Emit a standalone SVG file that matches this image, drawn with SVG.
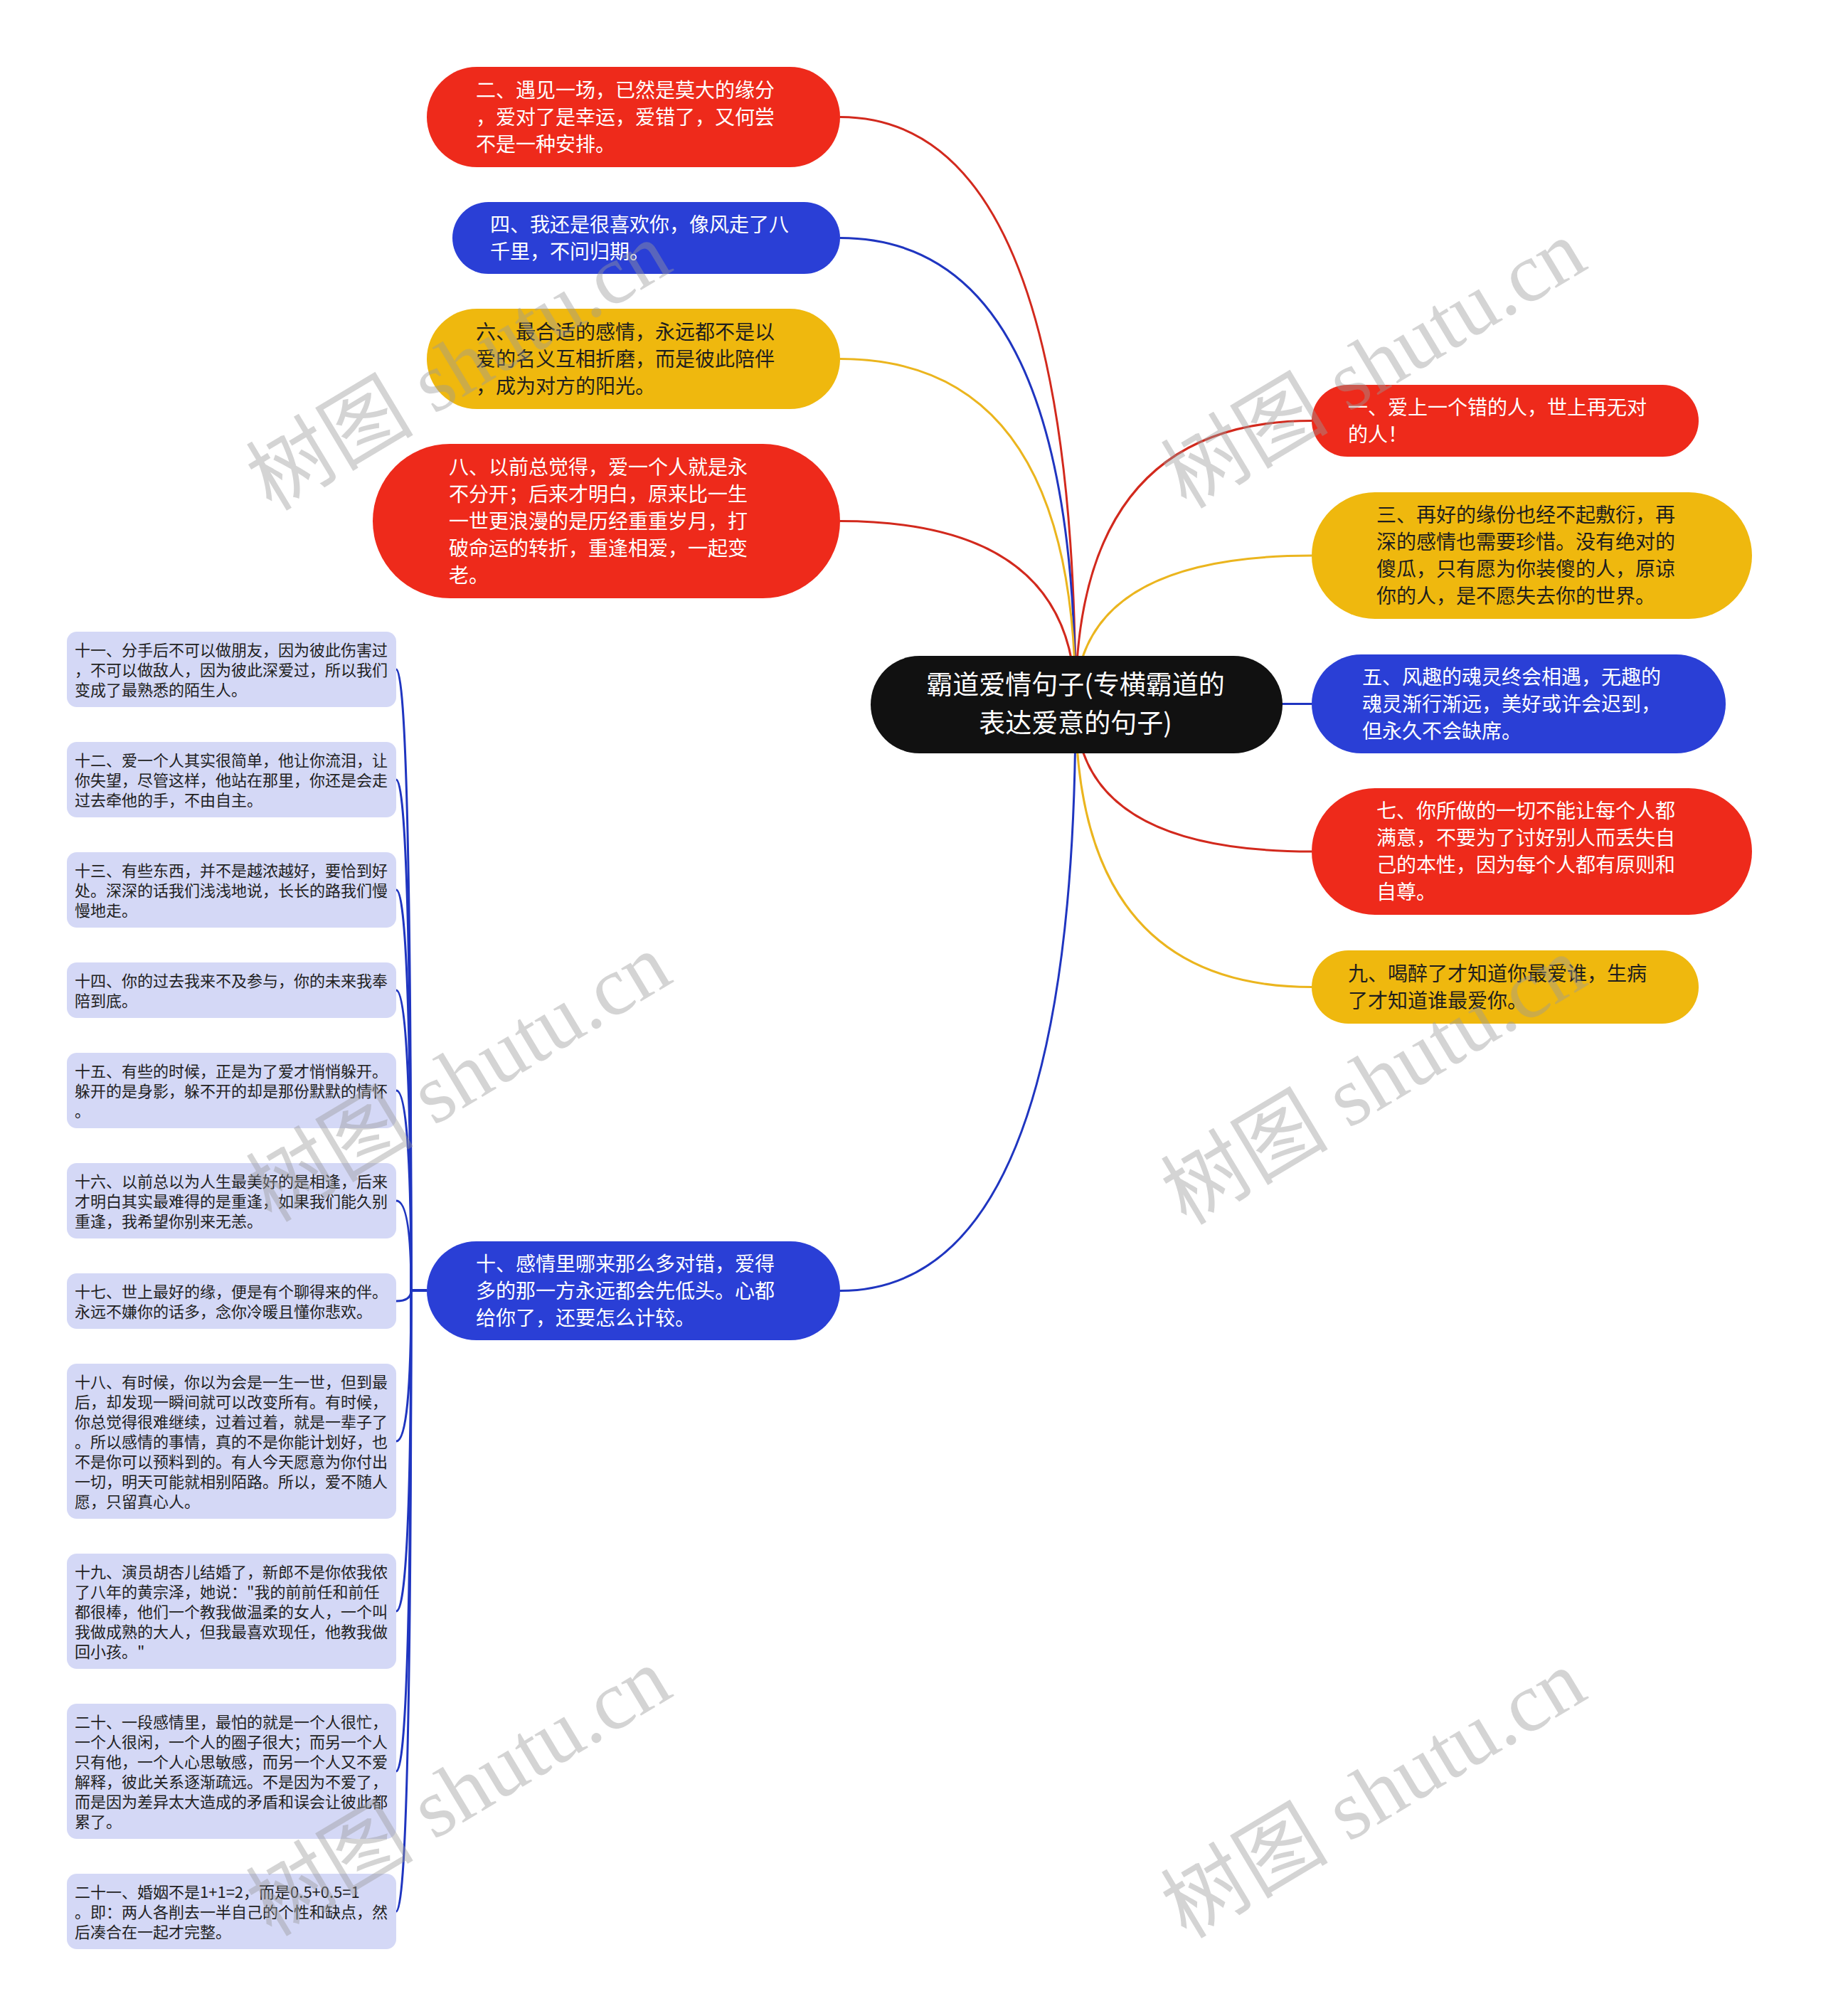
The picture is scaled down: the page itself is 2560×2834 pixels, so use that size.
<svg xmlns="http://www.w3.org/2000/svg" width="2560" height="2834" viewBox="0 0 2560 2834">
<style>
text { font-family: "Noto Sans CJK SC", "Noto Sans", sans-serif; }
.m text { font-size: 28px; }
.lt { fill: #ffffff; }
.dk { fill: #1e1e1e; }
.red { fill: #ee2a1b; }
.blue { fill: #2a3fd6; }
.yel { fill: #efb80e; }
.leaf rect { fill: #d4d8f6; }
.leaf text { font-size: 22px; fill: #222222; }
.c { fill: none; stroke-width: 3; }
.cr { stroke: #d2291d; }
.cb { stroke: #1f35c0; }
.cy { stroke: #ebb51e; }
.wm { font-family: "Liberation Serif", "Noto Sans CJK SC", serif; font-size: 118px; fill: #9a9a9a; opacity: 0.42; }
</style>
<rect x="0" y="0" width="2560" height="2834" fill="#ffffff"/>
<g id="connectors">
  <path class="c cr" d="M1512 990 Q1512 164.5 1181 164.5"/>
  <path class="c cb" d="M1512 990 Q1512 334.5 1181 334.5"/>
  <path class="c cy" d="M1512 990 Q1512 504.5 1181 504.5"/>
  <path class="c cr" d="M1512 990 Q1512 732.5 1181 732.5"/>
  <path class="c cb" d="M1512 990 Q1512 1814.5 1181 1814.5"/>
  <path class="c cr" d="M1512 990 Q1512 591.5 1844 591.5"/>
  <path class="c cy" d="M1512 990 Q1512 781 1844 781"/>
  <path class="c cb" d="M1512 990 L1844 989.5"/>
  <path class="c cr" d="M1512 990 Q1512 1197 1844 1197"/>
  <path class="c cy" d="M1512 990 Q1512 1387.5 1844 1387.5"/>
  <g class="c cb">
    <path d="M600 1814 L578 1814 Q578 941 557 941"/>
    <path d="M600 1814 L578 1814 Q578 1096 557 1096"/>
    <path d="M600 1814 L578 1814 Q578 1251 557 1251"/>
    <path d="M600 1814 L578 1814 Q578 1392 557 1392"/>
    <path d="M600 1814 L578 1814 Q578 1533 557 1533"/>
    <path d="M600 1814 L578 1814 Q578 1688 557 1688"/>
    <path d="M600 1814 L578 1814 Q578 1829 557 1829"/>
    <path d="M600 1814 L578 1814 Q578 2026 557 2026"/>
    <path d="M600 1814 L578 1814 Q578 2265 557 2265"/>
    <path d="M600 1814 L578 1814 Q578 2490 557 2490"/>
    <path d="M600 1814 L578 1814 Q578 2687 557 2687"/>
  </g>
</g>
<g id="root">
  <rect x="1224" y="922" width="579" height="137" rx="68.5" fill="#111111"/>
  <text x="1512" y="976" text-anchor="middle" font-size="37" fill="#ffffff">霸道爱情句子(专横霸道的</text>
  <text x="1512" y="1030" text-anchor="middle" font-size="37" fill="#ffffff">表达爱意的句子)</text>
</g>
<g class="m">
  <g id="n2">
    <rect class="red" x="600" y="94" width="581" height="141" rx="70.5"/>
    <text class="lt" x="669" y="136.5">二、遇见一场，已然是莫大的缘分</text>
    <text class="lt" x="669" y="174.5">，爱对了是幸运，爱错了，又何尝</text>
    <text class="lt" x="669" y="212.5">不是一种安排。</text>
  </g>
  <g id="n4">
    <rect class="blue" x="636" y="284" width="545" height="101" rx="50.5"/>
    <text class="lt" x="689" y="325.5">四、我还是很喜欢你，像风走了八</text>
    <text class="lt" x="689" y="363.5">千里，不问归期。</text>
  </g>
  <g id="n6">
    <rect class="yel" x="600" y="434" width="581" height="141" rx="70.5"/>
    <text class="dk" x="669" y="476.5">六、最合适的感情，永远都不是以</text>
    <text class="dk" x="669" y="514.5">爱的名义互相折磨，而是彼此陪伴</text>
    <text class="dk" x="669" y="552.5">，成为对方的阳光。</text>
  </g>
  <g id="n8">
    <rect class="red" x="524" y="624" width="657" height="217" rx="108.5"/>
    <text class="lt" x="631" y="666.5">八、以前总觉得，爱一个人就是永</text>
    <text class="lt" x="631" y="704.5">不分开；后来才明白，原来比一生</text>
    <text class="lt" x="631" y="742.5">一世更浪漫的是历经重重岁月，打</text>
    <text class="lt" x="631" y="780.5">破命运的转折，重逢相爱，一起变</text>
    <text class="lt" x="631" y="818.5">老。</text>
  </g>
  <g id="n10">
    <rect class="blue" x="600" y="1745" width="581" height="139" rx="69.5"/>
    <text class="lt" x="669" y="1786.5">十、感情里哪来那么多对错，爱得</text>
    <text class="lt" x="669" y="1824.5">多的那一方永远都会先低头。心都</text>
    <text class="lt" x="669" y="1862.5">给你了，还要怎么计较。</text>
  </g>
  <g id="n1">
    <rect class="red" x="1844" y="541" width="544" height="101" rx="50.5"/>
    <text class="lt" x="1895" y="582.5">一、爱上一个错的人，世上再无对</text>
    <text class="lt" x="1895" y="620.5">的人！</text>
  </g>
  <g id="n3">
    <rect class="yel" x="1844" y="692" width="619" height="178" rx="89"/>
    <text class="dk" x="1935" y="734">三、再好的缘份也经不起敷衍，再</text>
    <text class="dk" x="1935" y="772">深的感情也需要珍惜。没有绝对的</text>
    <text class="dk" x="1935" y="810">傻瓜，只有愿为你装傻的人，原谅</text>
    <text class="dk" x="1935" y="848">你的人，是不愿失去你的世界。</text>
  </g>
  <g id="n5">
    <rect class="blue" x="1844" y="920" width="582" height="139" rx="69.5"/>
    <text class="lt" x="1915" y="961.5">五、风趣的魂灵终会相遇，无趣的</text>
    <text class="lt" x="1915" y="999.5">魂灵渐行渐远，美好或许会迟到，</text>
    <text class="lt" x="1915" y="1037.5">但永久不会缺席。</text>
  </g>
  <g id="n7">
    <rect class="red" x="1844" y="1108" width="619" height="178" rx="89"/>
    <text class="lt" x="1935" y="1150">七、你所做的一切不能让每个人都</text>
    <text class="lt" x="1935" y="1188">满意，不要为了讨好别人而丢失自</text>
    <text class="lt" x="1935" y="1226">己的本性，因为每个人都有原则和</text>
    <text class="lt" x="1935" y="1264">自尊。</text>
  </g>
  <g id="n9">
    <rect class="yel" x="1844" y="1336" width="544" height="103" rx="51.5"/>
    <text class="dk" x="1895" y="1378.5">九、喝醉了才知道你最爱谁，生病</text>
    <text class="dk" x="1895" y="1416.5">了才知道谁最爱你。</text>
  </g>
</g>
<g class="leaf">
  <g id="n11">
    <rect x="94" y="888" width="463" height="106" rx="14"/>
    <text x="105" y="922">十一、分手后不可以做朋友，因为彼此伤害过</text>
    <text x="105" y="950">，不可以做敌人，因为彼此深爱过，所以我们</text>
    <text x="105" y="978">变成了最熟悉的陌生人。</text>
  </g>
  <g id="n12">
    <rect x="94" y="1043" width="463" height="106" rx="14"/>
    <text x="105" y="1077">十二、爱一个人其实很简单，他让你流泪，让</text>
    <text x="105" y="1105">你失望，尽管这样，他站在那里，你还是会走</text>
    <text x="105" y="1133">过去牵他的手，不由自主。</text>
  </g>
  <g id="n13">
    <rect x="94" y="1198" width="463" height="106" rx="14"/>
    <text x="105" y="1232">十三、有些东西，并不是越浓越好，要恰到好</text>
    <text x="105" y="1260">处。深深的话我们浅浅地说，长长的路我们慢</text>
    <text x="105" y="1288">慢地走。</text>
  </g>
  <g id="n14">
    <rect x="94" y="1353" width="463" height="78" rx="14"/>
    <text x="105" y="1387">十四、你的过去我来不及参与，你的未来我奉</text>
    <text x="105" y="1415">陪到底。</text>
  </g>
  <g id="n15">
    <rect x="94" y="1480" width="463" height="106" rx="14"/>
    <text x="105" y="1514">十五、有些的时候，正是为了爱才悄悄躲开。</text>
    <text x="105" y="1542">躲开的是身影，躲不开的却是那份默默的情怀</text>
    <text x="105" y="1570">。</text>
  </g>
  <g id="n16">
    <rect x="94" y="1635" width="463" height="106" rx="14"/>
    <text x="105" y="1669">十六、以前总以为人生最美好的是相逢，后来</text>
    <text x="105" y="1697">才明白其实最难得的是重逢，如果我们能久别</text>
    <text x="105" y="1725">重逢，我希望你别来无恙。</text>
  </g>
  <g id="n17">
    <rect x="94" y="1790" width="463" height="78" rx="14"/>
    <text x="105" y="1824">十七、世上最好的缘，便是有个聊得来的伴。</text>
    <text x="105" y="1852">永远不嫌你的话多，念你冷暖且懂你悲欢。</text>
  </g>
  <g id="n18">
    <rect x="94" y="1917" width="463" height="218" rx="14"/>
    <text x="105" y="1951">十八、有时候，你以为会是一生一世，但到最</text>
    <text x="105" y="1979">后，却发现一瞬间就可以改变所有。有时候，</text>
    <text x="105" y="2007">你总觉得很难继续，过着过着，就是一辈子了</text>
    <text x="105" y="2035">。所以感情的事情，真的不是你能计划好，也</text>
    <text x="105" y="2063">不是你可以预料到的。有人今天愿意为你付出</text>
    <text x="105" y="2091">一切，明天可能就相别陌路。所以，爱不随人</text>
    <text x="105" y="2119">愿，只留真心人。</text>
  </g>
  <g id="n19">
    <rect x="94" y="2184" width="463" height="162" rx="14"/>
    <text x="105" y="2218">十九、演员胡杏儿结婚了，新郎不是你侬我侬</text>
    <text x="105" y="2246">了八年的黄宗泽，她说："我的前前任和前任</text>
    <text x="105" y="2274">都很棒，他们一个教我做温柔的女人，一个叫</text>
    <text x="105" y="2302">我做成熟的大人，但我最喜欢现任，他教我做</text>
    <text x="105" y="2330">回小孩。"</text>
  </g>
  <g id="n20">
    <rect x="94" y="2395" width="463" height="190" rx="14"/>
    <text x="105" y="2429">二十、一段感情里，最怕的就是一个人很忙，</text>
    <text x="105" y="2457">一个人很闲，一个人的圈子很大；而另一个人</text>
    <text x="105" y="2485">只有他，一个人心思敏感，而另一个人又不爱</text>
    <text x="105" y="2513">解释，彼此关系逐渐疏远。不是因为不爱了，</text>
    <text x="105" y="2541">而是因为差异太大造成的矛盾和误会让彼此都</text>
    <text x="105" y="2569">累了。</text>
  </g>
  <g id="n21">
    <rect x="94" y="2634" width="463" height="106" rx="14"/>
    <text x="105" y="2668">二十一、婚姻不是1+1=2，而是0.5+0.5=1</text>
    <text x="105" y="2696">。即：两人各削去一半自己的个性和缺点，然</text>
    <text x="105" y="2724">后凑合在一起才完整。</text>
  </g>
</g>
<g id="watermarks">
  <text class="wm" text-anchor="middle" transform="translate(645,515) rotate(-31)" y="40">树图 shutu.cn</text>
  <text class="wm" text-anchor="middle" transform="translate(1931,512) rotate(-31)" y="40">树图 shutu.cn</text>
  <text class="wm" text-anchor="middle" transform="translate(645,1515) rotate(-31)" y="40">树图 shutu.cn</text>
  <text class="wm" text-anchor="middle" transform="translate(1931,1519) rotate(-31)" y="40">树图 shutu.cn</text>
  <text class="wm" text-anchor="middle" transform="translate(645,2519) rotate(-31)" y="40">树图 shutu.cn</text>
  <text class="wm" text-anchor="middle" transform="translate(1931,2522) rotate(-31)" y="40">树图 shutu.cn</text>
</g>
</svg>
